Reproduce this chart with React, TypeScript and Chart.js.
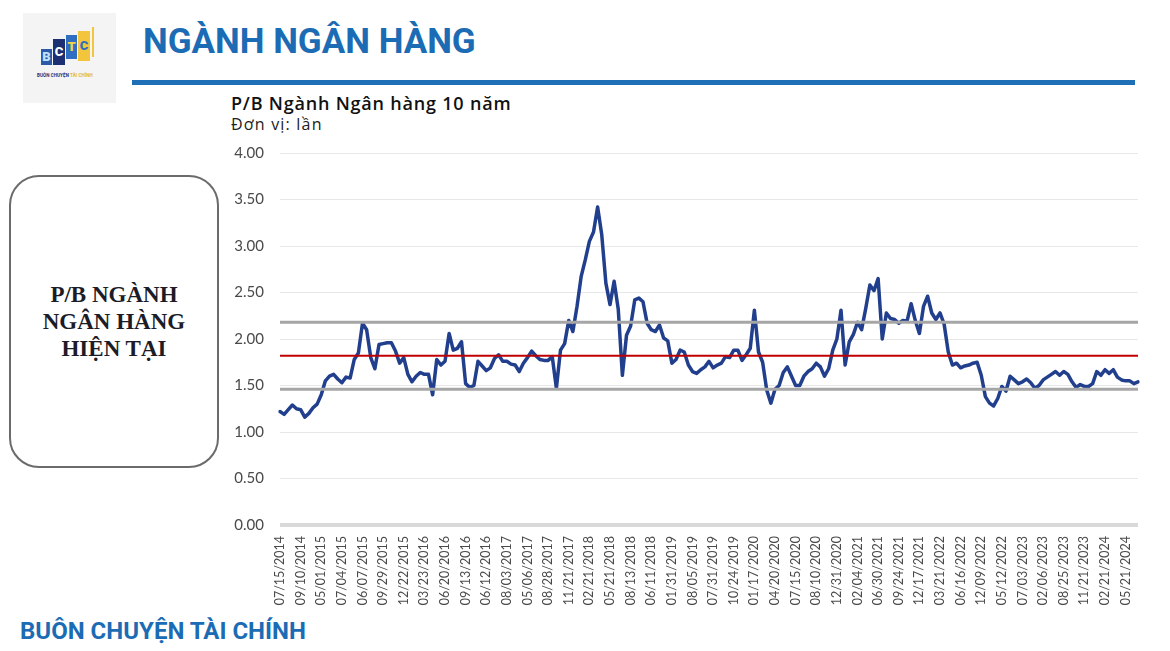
import React, { useEffect, useRef } from 'react';
import { Chart, registerables } from 'chart.js';

Chart.register(...registerables);

// Tick labels shown on the x axis (one every POINTS_PER_TICK observations)
const TICK_LABELS: string[] = [
  '07/15/2014', '09/10/2014', '05/01/2015', '07/04/2015', '06/07/2015', '09/29/2015',
  '12/22/2015', '03/23/2016', '06/20/2016', '09/13/2016', '06/12/2016', '08/03/2017',
  '05/06/2017', '08/28/2017', '11/21/2017', '02/21/2018', '05/21/2018', '08/13/2018',
  '06/11/2018', '01/31/2019', '08/05/2019', '07/31/2019', '10/24/2019', '01/17/2020',
  '04/20/2020', '07/15/2020', '08/10/2020', '12/31/2020', '02/04/2021', '06/30/2021',
  '09/24/2021', '12/17/2021', '03/21/2022', '06/16/2022', '12/09/2022', '05/12/2022',
  '07/03/2023', '02/06/2023', '08/25/2023', '11/21/2023', '02/21/2024', '05/21/2024',
];
const POINTS_PER_TICK = 5;

// P/B values of the banking sector
const PB_VALUES: number[] = [
  1.22, 1.19, 1.24, 1.29, 1.25, 1.24, 1.16, 1.20, 1.26, 1.30,
  1.40, 1.55, 1.60, 1.62, 1.57, 1.53, 1.59, 1.58, 1.78, 1.85,
  2.17, 2.10, 1.80, 1.68, 1.94, 1.95, 1.96, 1.96, 1.87, 1.74,
  1.80, 1.62, 1.54, 1.60, 1.64, 1.62, 1.62, 1.40, 1.78, 1.72,
  1.76, 2.06, 1.88, 1.90, 1.97, 1.52, 1.48, 1.50, 1.76, 1.71,
  1.66, 1.69, 1.79, 1.83, 1.76, 1.76, 1.73, 1.72, 1.65, 1.74,
  1.80, 1.87, 1.82, 1.78, 1.77, 1.77, 1.81, 1.47, 1.88, 1.95,
  2.20, 2.08, 2.35, 2.67, 2.85, 3.05, 3.15, 3.42, 3.12, 2.60,
  2.37, 2.62, 2.32, 1.61, 2.04, 2.14, 2.42, 2.44, 2.40, 2.17,
  2.10, 2.08, 2.15, 2.01, 1.98, 1.74, 1.78, 1.88, 1.86, 1.72,
  1.65, 1.63, 1.67, 1.70, 1.76, 1.69, 1.72, 1.74, 1.81, 1.80,
  1.88, 1.88, 1.77, 1.83, 1.90, 2.31, 1.86, 1.75, 1.45, 1.31,
  1.46, 1.50, 1.64, 1.70, 1.60, 1.50, 1.50, 1.60, 1.65, 1.68,
  1.74, 1.70, 1.60, 1.68, 1.88, 2.00, 2.31, 1.72, 1.97, 2.05,
  2.18, 2.10, 2.33, 2.58, 2.52, 2.65, 2.00, 2.28, 2.22, 2.21,
  2.17, 2.20, 2.19, 2.38, 2.20, 2.06, 2.35, 2.46, 2.28, 2.21,
  2.28, 2.16, 1.86, 1.72, 1.74, 1.69, 1.71, 1.72, 1.74, 1.75,
  1.61, 1.38, 1.31, 1.28, 1.36, 1.49, 1.44, 1.60, 1.56, 1.52,
  1.54, 1.57, 1.53, 1.47, 1.50, 1.56, 1.59, 1.62, 1.65, 1.61,
  1.65, 1.62, 1.54, 1.48, 1.51, 1.49, 1.49, 1.52, 1.65, 1.61,
  1.67, 1.63, 1.67, 1.59, 1.56, 1.55, 1.55, 1.52, 1.54,
];

// Reference levels: average and +/- 1 standard deviation
const PB_MEAN = 1.82;
const PB_UPPER = 2.18;
const PB_LOWER = 1.46;

const Y_MIN = 0;
const Y_MAX = 4;
const Y_STEP = 0.5;

const BLUE = '#1b6cb4';

function zeroPadding(scale: any) {
  scale.paddingTop = 0;
  scale.paddingBottom = 0;
  scale.paddingLeft = 0;
  scale.paddingRight = 0;
}

function PBChart() {
  const ref = useRef<HTMLCanvasElement | null>(null);

  useEffect(() => {
    if (!ref.current) return;
    const labels = PB_VALUES.map((_, i) =>
      i % POINTS_PER_TICK === 0 ? TICK_LABELS[i / POINTS_PER_TICK] ?? '' : ''
    );
    const chart = new Chart(ref.current, {
      type: 'line',
      data: {
        labels,
        datasets: [
          {
            label: 'Trung bình',
            data: PB_VALUES.map(() => PB_MEAN),
            borderColor: '#c00000',
            borderWidth: 2,
            pointRadius: 0,
            order: 0,
          },
          {
            label: '+1 độ lệch chuẩn',
            data: PB_VALUES.map(() => PB_UPPER),
            borderColor: '#a6a6a6',
            borderWidth: 3,
            pointRadius: 0,
            order: 1,
          },
          {
            label: '-1 độ lệch chuẩn',
            data: PB_VALUES.map(() => PB_LOWER),
            borderColor: '#a6a6a6',
            borderWidth: 3,
            pointRadius: 0,
            order: 1,
          },
          {
            label: 'P/B',
            data: PB_VALUES,
            borderColor: '#213f8c',
            borderWidth: 3.5,
            borderJoinStyle: 'round',
            borderCapStyle: 'round',
            pointRadius: 0,
            tension: 0,
            order: 3,
          },
        ],
      },
      options: {
        responsive: false,
        animation: false,
        layout: { padding: { top: 13, right: 12, left: 0, bottom: 0 } },
        plugins: { legend: { display: false }, tooltip: { enabled: false } },
        scales: {
          x: {
            type: 'category',
            grid: { display: false },
            border: { display: false },
            ticks: {
              autoSkip: false,
              minRotation: 90,
              maxRotation: 90,
              padding: 3,
              color: '#4a4a4a',
              font: { family: 'Lato', size: 12.5 },
            },
            afterFit: (scale: any) => {
              scale.height = 85;
              zeroPadding(scale);
            },
          },
          y: {
            min: Y_MIN,
            max: Y_MAX,
            border: { display: false },
            grid: {
              drawTicks: false,
              color: (ctx: any) => (ctx.tick && ctx.tick.value === 0 ? '#d9d9d9' : '#e8e8e8'),
              lineWidth: (ctx: any) => (ctx.tick && ctx.tick.value === 0 ? 4 : 1),
            },
            ticks: {
              stepSize: Y_STEP,
              padding: 16,
              color: '#4a4a4a',
              font: { family: 'Lato', size: 15 },
              callback: (v: any) => Number(v).toFixed(2),
            },
            afterFit: (scale: any) => {
              scale.width = 65;
              zeroPadding(scale);
            },
          },
        },
      },
    } as any);
    return () => chart.destroy();
  }, []);

  return (
    <canvas
      ref={ref}
      width={935}
      height={470}
      style={{ position: 'absolute', left: 215, top: 140, width: 935, height: 470, display: 'block' }}
    />
  );
}

function Logo() {
  const block = (left: number, top: number, w: number, h: number, bg: string, color: string, ch: string) => (
    <div
      style={{
        position: 'absolute', left, top, width: w, height: h, background: bg, color,
        fontFamily: 'Roboto', fontWeight: 900, fontSize: 13, lineHeight: `${h}px`, textAlign: 'center',
      }}
    >
      {ch}
    </div>
  );
  return (
    <div style={{ position: 'absolute', left: 23, top: 13, width: 93, height: 90, background: '#f4f4f4' }}>
      {block(18, 36, 11, 16, '#2b5aa8', '#bfe0ff', 'B')}
      {block(30, 26, 12, 26, '#1c2f72', '#ffffff', 'C')}
      {block(43, 22, 11, 24, '#2f6ec0', '#f3d34a', 'T')}
      {block(55, 18, 12, 30, '#f2c53d', '#2f6ec0', 'C')}
      <div style={{ position: 'absolute', left: 69, top: 14, width: 2, height: 30, background: '#f2c53d' }} />
      <div
        style={{
          position: 'absolute', left: 14, top: 60, width: 70, fontFamily: 'Roboto', fontWeight: 700,
          fontSize: 4.5, color: '#1c2f72', whiteSpace: 'nowrap', letterSpacing: 0.1,
        }}
      >
        BUÔN CHUYỆN <span style={{ color: '#e3b526' }}>TÀI CHÍNH</span>
      </div>
    </div>
  );
}

export default function App() {
  return (
    <div style={{ position: 'absolute', left: 0, top: 0, width: 1170, height: 651, background: '#ffffff', overflow: 'hidden' }}>
      <Logo />
      <div
        style={{
          position: 'absolute', left: 143, top: 24, fontFamily: 'Roboto', fontWeight: 700, fontSize: 35,
          lineHeight: '35px', color: BLUE, whiteSpace: 'nowrap',
        }}
      >
        NGÀNH NGÂN HÀNG
      </div>
      <div style={{ position: 'absolute', left: 132, top: 80, width: 1003, height: 5, background: '#1f6fb6' }} />
      <div
        style={{
          position: 'absolute', left: 231, top: 93, fontFamily: 'Open Sans', fontWeight: 600, fontSize: 18,
          lineHeight: '20px', letterSpacing: 0.8, color: '#111111', whiteSpace: 'nowrap',
        }}
      >
        P/B Ngành Ngân hàng 10 năm
      </div>
      <div
        style={{
          position: 'absolute', left: 231, top: 114, fontFamily: 'Open Sans', fontWeight: 400, fontSize: 16,
          lineHeight: '20px', letterSpacing: 1.2, color: '#222222', whiteSpace: 'nowrap',
        }}
      >
        Đơn vị: lần
      </div>
      <div
        style={{
          position: 'absolute', left: 9, top: 175, width: 206, height: 289, border: '2.5px solid #6b6b6b',
          borderRadius: 30, display: 'flex', alignItems: 'center', justifyContent: 'center', boxSizing: 'content-box',
        }}
      >
        <div
          style={{
            fontFamily: '"Liberation Serif", serif', fontWeight: 700, fontSize: 23, lineHeight: '27px',
            textAlign: 'center', color: '#1c1c28',
          }}
        >
          P/B NGÀNH
          <br />
          NGÂN HÀNG
          <br />
          HIỆN TẠI
        </div>
      </div>
      <PBChart />
      <div
        style={{
          position: 'absolute', left: 20, top: 619, fontFamily: 'Roboto', fontWeight: 700, fontSize: 24,
          lineHeight: '24px', color: BLUE, whiteSpace: 'nowrap',
        }}
      >
        BUÔN CHUYỆN TÀI CHÍNH
      </div>
    </div>
  );
}
